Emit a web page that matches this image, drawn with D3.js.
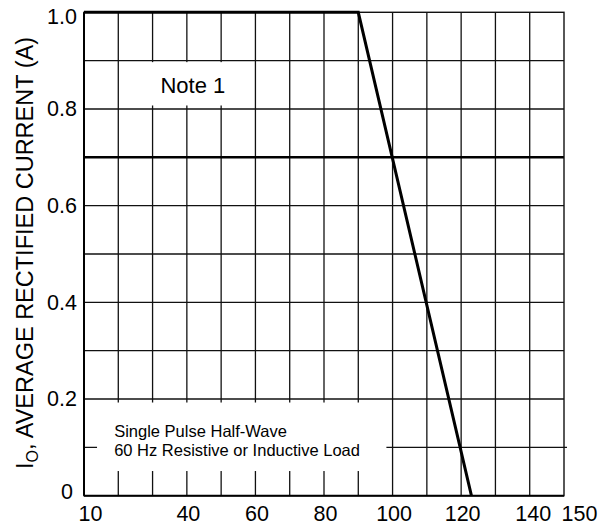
<!DOCTYPE html>
<html>
<head>
<meta charset="utf-8">
<script src="https://cdn.jsdelivr.net/npm/d3@7"></script>
<style>
  html, body { margin: 0; padding: 0; background: #fff; }
  svg { display: block; font-family: "Liberation Sans", Arial, Helvetica, sans-serif; }
</style>
</head>
<body>
<svg id="chart" width="602" height="529"></svg>
<script>
// ---- data ----
const curveTemps = [10, 90, 123];          // ambient temperature (°C)
const curveCurrents = [1.0, 1.0, 0.0];     // average rectified current (A)
const xTickLabels = [10, 40, 60, 80, 100, 120, 140, 150];
const yTickLabels = [0, 0.2, 0.4, 0.6, 0.8, 1.0];
const xGrid = [20, 30, 40, 50, 60, 70, 80, 90, 100, 110, 120, 130, 140];
const yGrid = [0.1, 0.2, 0.3, 0.4, 0.5, 0.6, 0.8, 0.9];
const yHeavy = [0.7];
const noteText = ["Note 1"];
const conditionText = ["Single Pulse Half-Wave", "60 Hz Resistive or Inductive Load"];
const yTitleMain = "I";
const yTitleSub = "O";
const yTitleRest = ", AVERAGE RECTIFIED CURRENT (A)";

// ---- layout ----
const L = 84, R = 564, T = 12.3, B = 495.7;
const svg = d3.select("#chart");
const x = d3.scaleLinear().domain([10, 150]).range([L, R]);
const y = d3.scaleLinear().domain([0, 1]).range([B, T]);

const ink = "#111";

// grid
const g = svg.append("g");
g.selectAll("line.v").data(xGrid).join("line")
  .attr("x1", d => x(d)).attr("x2", d => x(d))
  .attr("y1", y(0)).attr("y2", y(1))
  .attr("stroke", ink).attr("stroke-width", 1.3);
g.selectAll("line.h").data(yGrid).join("line")
  .attr("x1", x(10)).attr("x2", d => d === 0.1 ? x(150) + 3 : x(150))
  .attr("y1", d => y(d)).attr("y2", d => y(d))
  .attr("stroke", ink).attr("stroke-width", 1.3);
g.selectAll("line.hh").data(yHeavy).join("line")
  .attr("x1", x(10)).attr("x2", x(150))
  .attr("y1", d => y(d)).attr("y2", d => y(d))
  .attr("stroke", "#000").attr("stroke-width", 2.4);

// white annotation backgrounds
svg.append("rect").attr("x", x(21)).attr("y", y(0.9) + 1.5)
  .attr("width", x(53.5) - x(21)).attr("height", y(0.8) - y(0.9) - 5)
  .attr("fill", "#fff");
svg.append("rect").attr("x", x(13.8)).attr("y", y(0.2) + 3.5)
  .attr("width", x(98.2) - x(13.8)).attr("height", y(0.05) - y(0.2) - 4)
  .attr("fill", "#fff");

// frame
svg.append("rect").attr("x", L).attr("y", T).attr("width", R - L).attr("height", B - T)
  .attr("fill", "none").attr("stroke", ink).attr("stroke-width", 1.4);
svg.append("line").attr("x1", L).attr("x2", L).attr("y1", T).attr("y2", B)
  .attr("stroke", "#000").attr("stroke-width", 2);
svg.append("line").attr("x1", L).attr("x2", R).attr("y1", B).attr("y2", B)
  .attr("stroke", "#000").attr("stroke-width", 2);

// curve
const line = d3.line().x((d, i) => x(curveTemps[i])).y(d => y(d));
svg.append("path").datum(curveCurrents)
  .attr("d", line)
  .attr("fill", "none").attr("stroke", "#000").attr("stroke-width", 3)
  .attr("stroke-linejoin", "miter");

// x axis labels
const xLabelDx = {10: 6, 150: 15, 140: 3};
const xAxis = d3.axisBottom(x).tickValues(xTickLabels).tickSize(0).tickPadding(10)
  .tickFormat(d3.format("d"));
const xa = svg.append("g").attr("transform", `translate(0,${B})`).call(xAxis);
xa.select(".domain").remove();
xa.selectAll("text")
  .attr("font-size", 21.5).attr("fill", "#000")
  .attr("font-family", "Liberation Sans, Arial, sans-serif")
  .attr("dx", d => xLabelDx[d] || 1);

// y axis labels
const yLabelDy = {0: -4, 1: 4};
const yAxis = d3.axisLeft(y).tickValues(yTickLabels).tickSize(0).tickPadding(7)
  .tickFormat(d => d === 0 ? "0" : d3.format(".1f")(d));
const ya = svg.append("g").attr("transform", `translate(${L},0)`).call(yAxis);
ya.select(".domain").remove();
ya.selectAll("text")
  .attr("font-size", 21.5).attr("fill", "#000")
  .attr("font-family", "Liberation Sans, Arial, sans-serif")
  .attr("dx", d => d === 0 ? -4 : 0)
  .attr("transform", d => `translate(0,${yLabelDy[d] || 0})`);

// y title
const yt = svg.append("text")
  .attr("transform", `translate(33,469) rotate(-90)`)
  .attr("font-size", 23.5).attr("fill", "#000");
yt.append("tspan").text(yTitleMain);
yt.append("tspan").text(yTitleSub).attr("font-size", 16).attr("dy", 5);
yt.append("tspan").text(yTitleRest).attr("dy", -5);

// annotations
svg.append("text").attr("x", x(32.3)).attr("y", 93.3)
  .attr("font-size", 22).attr("fill", "#000").text(noteText[0]);
svg.selectAll("text.cond").data(conditionText).join("text")
  .attr("x", x(18.8)).attr("y", (d, i) => 436.7 + i * 19.5)
  .attr("font-size", 16.5).attr("fill", "#000").text(d => d);
</script>
</body>
</html>
